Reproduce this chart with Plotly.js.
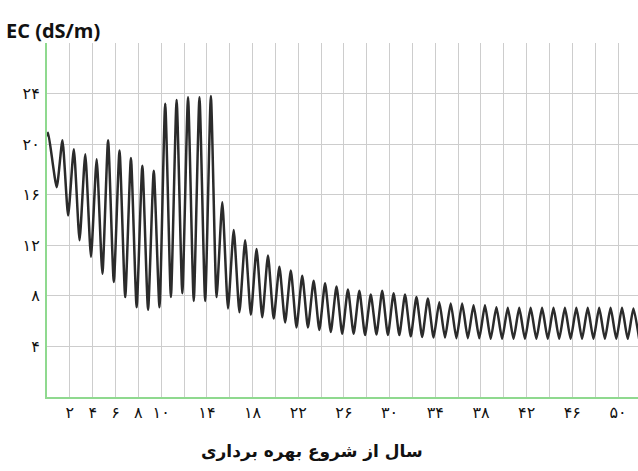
<!DOCTYPE html>
<html><head><meta charset="utf-8">
<script src="https://cdn.plot.ly/plotly-3.0.1.min.js"></script>
<style>html,body{margin:0;padding:0;background:#fff}</style>
</head><body>
<div id="chart" style="width:638px;height:471px"></div>
<script>
// ---- data ----
const startYear = 0;
const startValue = 20.6;
const cycleYears = [0,1,2,3,4,5,6,7,8,9,10,11,12,13,14,15,16,17,18,19,20,21,22,23,24,25,
  26,27,28,29,30,31,32,33,34,35,36,37,38,39,40,41,42,43,44,45,46,47,48,49,50,51];
const peakValues = [20.9,20.3,19.6,19.2,18.8,20.3,19.5,18.9,18.3,17.9,
  23.2,23.5,23.7,23.7,23.8,15.4,13.2,12.4,11.7,11.2,
  10.3,10.0,9.6,9.2,9.0,8.75,8.5,8.4,8.1,8.4,
  8.2,8.1,7.9,7.8,7.5,7.4,7.4,7.25,7.25,7.1,
  7.05,7.05,7.05,7.05,7.05,7.05,7.05,7.05,7.05,7.05,7.05,7.0];
const troughValues = [16.6,14.35,12.4,11.1,9.75,9.1,7.9,7.1,6.9,7.1,
  7.9,8.2,7.6,7.6,7.9,7.0,6.7,6.5,6.3,6.2,
  5.9,5.5,5.5,5.3,5.15,5.0,5.0,4.9,4.95,4.9,
  4.9,4.8,4.75,4.7,4.7,4.65,4.65,4.65,4.6,4.6,
  4.6,4.6,4.6,4.6,4.6,4.6,4.6,4.6,4.6,4.6,4.6,4.6];
const peakPhase = 0.35, troughPhase = 0.85;

const xTickVals = [0,2,4,6,8,10,12,14,16,18,20,22,24,26,28,30,32,34,36,38,40,42,44,46,48,50];
const xTickText = ['','۲','۴','۶','۸','۱۰','','۱۴','','۱۸','','۲۲','','۲۶','','۳۰','','۳۴','','۳۸','','۴۲','','۴۶','','۵۰'];
const yTickVals = [0,4,8,12,16,20,24,28];
const yTickText = ['','۴','۸','۱۲','۱۶','۲۰','۲۴',''];

const yLabel = 'EC (dS/m)';
const xLabel = 'سال از شروع بهره برداری';

// ---- build the series ----
const xs = [startYear], ys = [startValue];
cycleYears.forEach((yr, i) => {
  xs.push(yr + (i === 0 ? 0.1 : peakPhase)); ys.push(peakValues[i]);
  xs.push(yr + troughPhase); ys.push(troughValues[i]);
});

const green = '#8fd98f';
const grid = '#cdcdcd';
const tickFont = {family: 'DejaVu Sans', size: 16, color: '#111'};

const layout = {
  width: 638, height: 471,
  margin: {l: 47, r: 0, t: 43, b: 74},
  paper_bgcolor: '#fff', plot_bgcolor: '#fff',
  showlegend: false,
  xaxis: {
    range: [0, 51.75], tickvals: xTickVals, ticktext: xTickText,
    showgrid: true, gridcolor: grid, gridwidth: 1,
    showline: true, linecolor: green, linewidth: 2, zeroline: false,
    ticks: '', tickfont: tickFont, automargin: false
  },
  yaxis: {
    range: [0, 28], tickvals: yTickVals, ticktext: yTickText,
    showgrid: true, gridcolor: grid, gridwidth: 1,
    showline: true, linecolor: green, linewidth: 2, zeroline: false,
    ticks: '', tickfont: tickFont, automargin: false, ticklabelstandoff: 2
  },
  annotations: [{
    text: yLabel, xref: 'paper', yref: 'paper',
    x: -0.072, y: 1.035, xanchor: 'left', yanchor: 'middle', showarrow: false,
    font: {family: 'Open Sans', size: 20, color: '#111', weight: 'bold'}
  }, {
    text: xLabel, xref: 'paper', yref: 'paper',
    x: 0.448, y: -0.155, xanchor: 'center', yanchor: 'middle', showarrow: false,
    font: {family: 'DejaVu Sans', size: 17, color: '#111', weight: 'bold'}
  }]
};

Plotly.newPlot('chart', [{
  x: xs, y: ys, type: 'scatter', mode: 'lines',
  line: {color: '#2b2b2b', width: 2.5, shape: 'spline', smoothing: 0.55}, hoverinfo: 'skip'
}], layout, {displayModeBar: false, staticPlot: true});
</script>
</body></html>
